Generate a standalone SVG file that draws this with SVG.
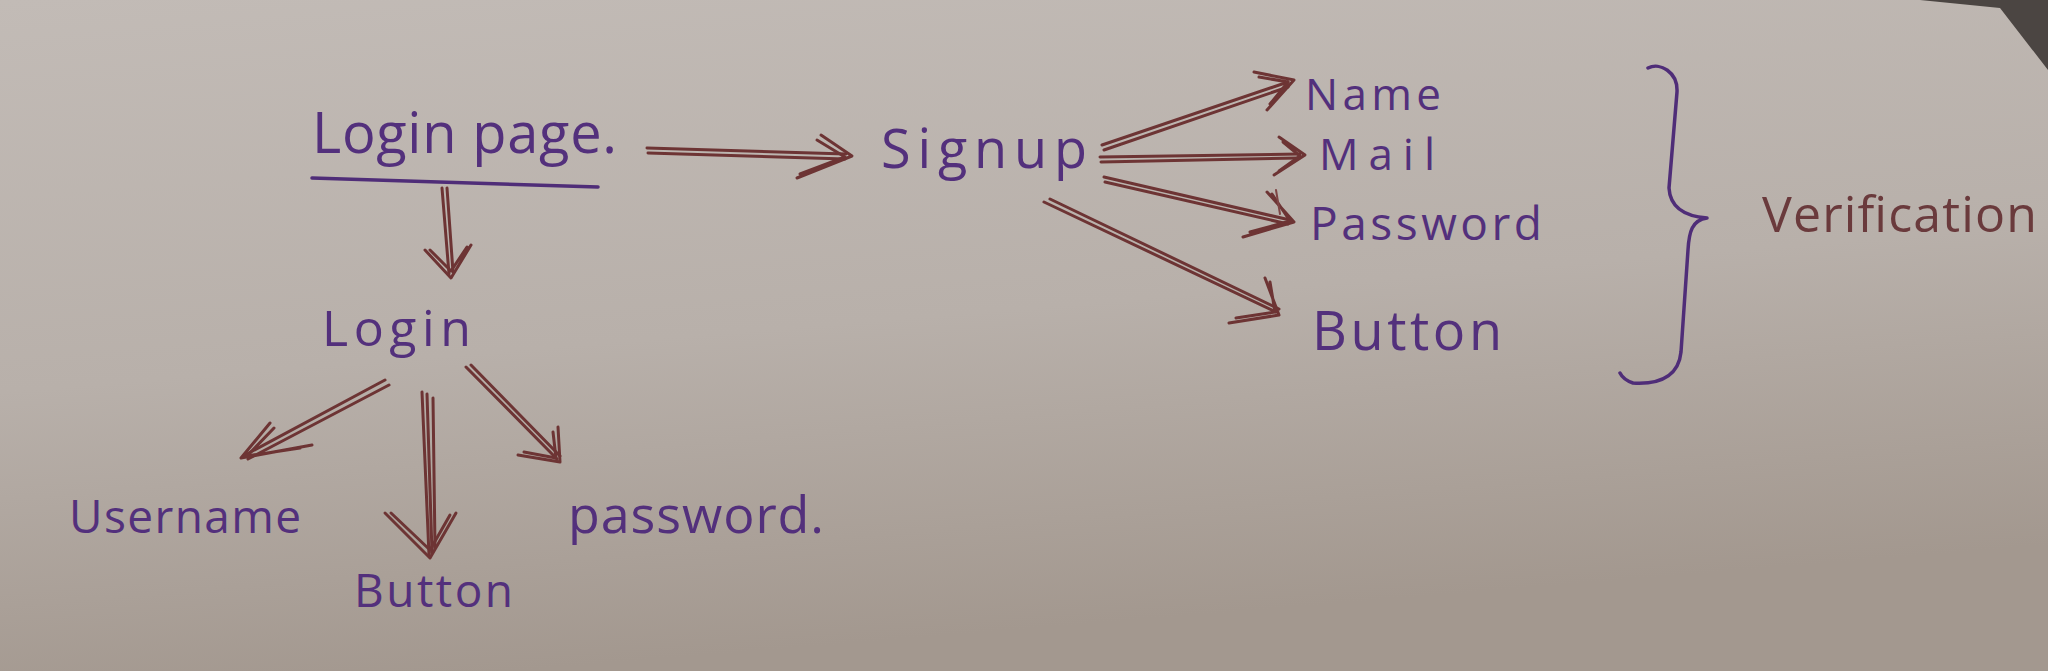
<svg xmlns="http://www.w3.org/2000/svg" width="2048" height="671" viewBox="0 0 2048 671">
  <defs>
    <linearGradient id="paper" x1="0" y1="0" x2="0.25" y2="1">
      <stop offset="0" stop-color="#c2bbb6"/>
      <stop offset="0.55" stop-color="#b8b0aa"/>
      <stop offset="1" stop-color="#a3988f"/>
    </linearGradient>
    <style>
      .ink { font-family: "Open Sans", "Liberation Sans", sans-serif; fill: #53307c; }
      .ink2 { font-family: "Open Sans", "Liberation Sans", sans-serif; fill: #6a3a3c; }
      .arr { fill: none; stroke: #6d3434; stroke-width: 3; stroke-linecap: round; stroke-linejoin: round; }
      .arr2 { fill: none; stroke: #7e4444; stroke-width: 2; stroke-linecap: round; stroke-linejoin: round; }
      .pen { fill: none; stroke: #4f2d78; stroke-width: 3.5; stroke-linecap: round; stroke-linejoin: round; }
    </style>
  </defs>

  <!-- paper and table corner -->
  <rect x="0" y="0" width="2048" height="671" fill="url(#paper)"/>
  <polygon points="1920,0 2000,8 2048,70 2048,0" fill="#4b4542"/>

  <!-- nodes -->
  <g id="login-page">
    <text class="ink" x="312" y="153" font-size="56" textLength="305">Login page.</text>
    <path class="pen" d="M312,178 L598,187"/>
  </g>
  <g id="signup">
    <text class="ink" x="881" y="168" font-size="54" textLength="206">Signup</text>
  </g>
  <g id="name">
    <text class="ink" x="1305" y="110" font-size="44" textLength="136">Name</text>
  </g>
  <g id="mail">
    <text class="ink" x="1319" y="170" font-size="44" textLength="116">Mail</text>
  </g>
  <g id="password-signup">
    <text class="ink" x="1310" y="240" font-size="46" textLength="232">Password</text>
  </g>
  <g id="button-signup">
    <text class="ink" x="1312" y="350" font-size="54" textLength="190">Button</text>
  </g>
  <g id="verification">
    <path class="pen" d="M1648,68 C1660,62 1678,72 1677,92 L1669,188 C1670,206 1682,216 1707,218 C1692,220 1689,232 1688,250 L1681,352 C1679,372 1665,385 1633,383 C1627,381 1622,377 1620,373"/>
    <text class="ink2" x="1762" y="232" font-size="50" textLength="275">Verification</text>
  </g>
  <g id="login">
    <text class="ink" x="322" y="346" font-size="50" textLength="149">Login</text>
  </g>
  <g id="username">
    <text class="ink" x="69" y="533" font-size="46" textLength="232">Username</text>
  </g>
  <g id="button-login">
    <text class="ink" x="354" y="607" font-size="46" textLength="159">Button</text>
  </g>
  <g id="password-login">
    <text class="ink" x="568" y="533" font-size="52" textLength="256">password.</text>
  </g>

  <!-- connectors -->
  <g id="connectors">
    <!-- Login page -> Signup -->
    <path class="arr" d="M647,148 L846,154 M648,153 L845,159"/>
    <path class="arr" d="M821,135 L852,156 L797,178 M817,140 L845,157 L800,174"/>
    <!-- Login page -> Login -->
    <path class="arr" d="M442,188 L449,274 M447,188 L453,272"/>
    <path class="arr" d="M425,250 L451,278 L471,245 M430,250 L451,271 L467,247"/>
    <!-- Signup -> Name -->
    <path class="arr" d="M1102,145 L1288,82 M1104,150 L1288,87"/>
    <path class="arr" d="M1254,72 L1294,80 L1267,110 M1259,77 L1288,82 L1270,104"/>
    <!-- Signup -> Mail -->
    <path class="arr" d="M1100,157 L1300,154 M1101,162 L1298,158"/>
    <path class="arr" d="M1279,137 L1305,155 L1274,175 M1283,142 L1300,156 L1279,171"/>
    <!-- Signup -> Password -->
    <path class="arr" d="M1104,177 L1290,220 M1105,182 L1288,224"/>
    <path class="arr" d="M1267,192 L1294,222 L1243,237 M1272,194 L1290,221 L1250,232"/>
    <path class="arr2" d="M1276,190 L1280,214"/>
    <!-- Signup -> Button -->
    <path class="arr" d="M1044,202 L1276,312 M1050,199 L1279,309"/>
    <path class="arr" d="M1265,278 L1279,315 L1229,323 M1270,282 L1275,312 L1236,318"/>
    <!-- Login -> Username -->
    <path class="arr" d="M385,380 L245,455 M389,385 L248,459"/>
    <path class="arr" d="M270,423 L241,458 L312,445 M274,428 L247,456 L300,448"/>
    <!-- Login -> Button -->
    <path class="arr" d="M422,392 L429,555 M427,394 L432,553 M433,398 L435,548"/>
    <path class="arr" d="M385,513 L430,558 L456,513 M391,513 L430,550 L450,515"/>
    <!-- Login -> password -->
    <path class="arr" d="M466,367 L557,459 M471,365 L560,456"/>
    <path class="arr" d="M558,427 L560,462 L518,455 M553,432 L556,458 L524,452"/>
  </g>
</svg>
